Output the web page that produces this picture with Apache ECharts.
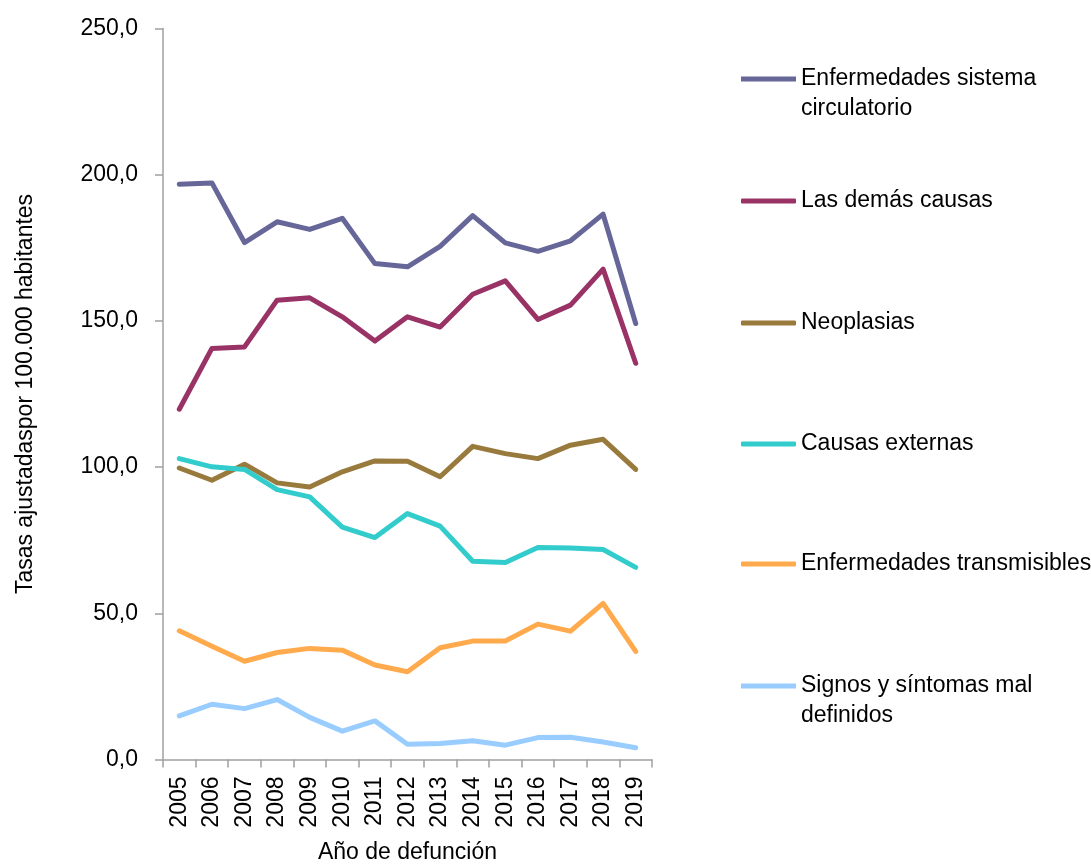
<!DOCTYPE html>
<html>
<head>
<meta charset="utf-8">
<script src="https://cdn.jsdelivr.net/npm/echarts@6/dist/echarts.min.js"></script>
<style>
  html, body { margin: 0; padding: 0; background: #fff; }
  #chart { width: 1091px; height: 865px; }
</style>
</head>
<body>
<div id="chart"></div>
<script>
// Tasas ajustadas de mortalidad por grandes grupos de causas, 2005-2019
const years = ['2005','2006','2007','2008','2009','2010','2011','2012','2013','2014','2015','2016','2017','2018','2019'];

const circulatorio  = [196.7, 197.2, 176.8, 183.9, 181.3, 185.1, 169.6, 168.5, 175.5, 186.0, 176.7, 173.8, 177.4, 186.5, 149.1];
const demasCausas   = [119.8, 140.6, 141.1, 157.1, 157.9, 151.4, 143.1, 151.4, 147.9, 159.1, 163.7, 150.5, 155.4, 167.7, 135.5];
const neoplasias    = [99.7, 95.5, 101.0, 94.6, 93.2, 98.4, 102.1, 102.0, 96.7, 107.1, 104.6, 102.9, 107.5, 109.5, 99.2];
const externas      = [102.9, 100.1, 99.2, 92.3, 89.8, 79.5, 75.9, 84.1, 79.8, 67.8, 67.4, 72.5, 72.3, 71.8, 65.7];
const transmisibles = [44.0, 38.7, 33.6, 36.6, 38.0, 37.4, 32.3, 30.0, 38.2, 40.5, 40.5, 46.3, 43.9, 53.4, 37.0];
const malDefinidos  = [14.9, 18.9, 17.4, 20.5, 14.4, 9.7, 13.2, 5.2, 5.5, 6.4, 4.9, 7.5, 7.6, 6.0, 4.0];

const seriesNames = [
  'Enfermedades sistema\ncirculatorio',
  'Las demás causas',
  'Neoplasias',
  'Causas externas',
  'Enfermedades transmisibles',
  'Signos y síntomas mal\ndefinidos'
];
const seriesData = [circulatorio, demasCausas, neoplasias, externas, transmisibles, malDefinidos];
const seriesColors = ['#666699', '#993366', '#997a3d', '#33cccc', '#ffaa4d', '#99ccff'];

const FONT = '"Liberation Sans", Arial, sans-serif';
const FS = 23;
const LH = 30;

// Legend swatch for two-line entries: a bar at the top of a taller box,
// so it sits beside the first line of the label.
const TOP_BAR_ICON = 'path://M0,0L55,0L55,5L0,5ZM0,35';

// one legend block per series, stacked down the right-hand side
const legendIconY = [79, 201, 323, 444, 564, 686];
const legends = seriesNames.map((name, i) => {
  const twoLines = name.indexOf('\n') >= 0;
  return {
    data: [name],
    orient: 'vertical',
    left: 741,
    top: legendIconY[i] - LH / 2,
    padding: 0,
    icon: twoLines ? TOP_BAR_ICON : 'roundRect',
    symbolKeepAspect: false,
    itemWidth: 55,
    itemHeight: twoLines ? 35 : 5,
    itemGap: 0,
    selectedMode: false,
    textStyle: {
      fontFamily: FONT,
      fontSize: FS,
      lineHeight: LH,
      color: '#000'
    }
  };
});

const chart = echarts.init(document.getElementById('chart'), null, { renderer: 'canvas' });

chart.setOption({
  backgroundColor: '#fff',
  animation: false,
  textStyle: { fontFamily: FONT },
  grid: {
    left: 163, right: 439, top: 28.5, bottom: 105.5,
    containLabel: false,
    outerBoundsMode: 'none'
  },
  legend: legends,
  xAxis: {
    type: 'category',
    data: years,
    boundaryGap: true,
    name: 'Año de defunción',
    nameLocation: 'middle',
    nameGap: 82,
    nameTextStyle: { fontFamily: FONT, fontSize: FS, color: '#000' },
    axisLine: { lineStyle: { color: '#a0a0a0', width: 1.5 } },
    axisTick: { show: true, length: 8, alignWithLabel: false, lineStyle: { color: '#a0a0a0', width: 1.5 } },
    axisLabel: {
      rotate: 90,
      margin: 17,
      interval: 0,
      fontFamily: FONT,
      fontSize: FS,
      color: '#000'
    },
    splitLine: { show: false }
  },
  yAxis: {
    type: 'value',
    min: 0,
    max: 250,
    interval: 50,
    name: 'Tasas ajustadaspor 100.000 habitantes',
    nameLocation: 'middle',
    nameGap: 126,
    nameTextStyle: { fontFamily: FONT, fontSize: FS, color: '#000' },
    axisLine: { show: true, lineStyle: { color: '#a0a0a0', width: 1.5 } },
    axisTick: { show: true, length: 8, lineStyle: { color: '#a0a0a0', width: 1.5 } },
    axisLabel: {
      margin: 25,
      fontFamily: FONT,
      fontSize: FS,
      color: '#000',
      formatter: v => v.toFixed(1).replace('.', ',')
    },
    splitLine: { show: false }
  },
  series: seriesNames.map((name, i) => ({
    name: name,
    type: 'line',
    data: seriesData[i],
    color: seriesColors[i],
    itemStyle: { color: seriesColors[i] },
    showSymbol: false,
    symbol: 'none',
    lineStyle: { width: 5, color: seriesColors[i], cap: 'round', join: 'round' },
    emphasis: { disabled: true }
  }))
});
</script>
</body>
</html>
